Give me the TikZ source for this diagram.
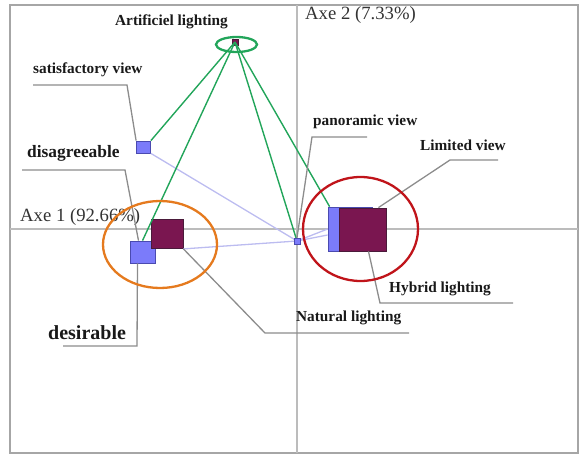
\documentclass[tikz,border=0pt]{standalone}
\usepackage{fontspec}
\setmainfont{Liberation Serif}
\definecolor{ptblue}{HTML}{7B7BFA}
\definecolor{ptblueline}{HTML}{4A4AB0}
\definecolor{ptpurple}{HTML}{7A1650}
\definecolor{ptpurpleline}{HTML}{4A1A3A}
\definecolor{linkgreen}{HTML}{22A55A}
\definecolor{linklav}{HTML}{BCBCF0}
\definecolor{ringorange}{HTML}{E57A1E}
\definecolor{ringred}{HTML}{C0141A}
\definecolor{leadgray}{HTML}{8C8C8C}
\definecolor{axisgray}{HTML}{BCBCBC}
\begin{document}
\begin{tikzpicture}[x=1pt,y=-1pt,
    bluept/.style={draw=ptblueline,fill=ptblue,line width=0.8pt,inner sep=0pt},
    purplept/.style={draw=ptpurpleline,fill=ptpurple,line width=0.8pt,inner sep=0pt},
    lbl/.style={font=\fontsize{15.3}{17}\selectfont\bfseries,text=black!90,anchor=west,inner sep=0pt},
    axlbl/.style={font=\fontsize{18.7}{20}\selectfont,text=black!80,anchor=west,inner sep=0pt},
    lead/.style={draw=leadgray,line width=1.3pt},
    greenlink/.style={draw=linkgreen,line width=1.4pt},
    lavlink/.style={draw=linklav,line width=1.3pt},
    ring/.style={line width=2.3pt}]
    \useasboundingbox (0,0) rectangle (582,455);
    % Frame and axes
    \draw[gray!70, line width=1.6pt] (10,5) rectangle (578,453);
    \draw[axisgray, line width=1.4pt] (10,229) -- (578,229);
    \draw[axisgray, line width=1.4pt] (297,5) -- (297,453);
    \node[axlbl] (ax1) at (20,217) {Axe 1 (92.66\%)};
    \node[axlbl] (ax2) at (305,15) {Axe 2 (7.33\%)};

    % Points
    \node[purplept, minimum width=6pt, minimum height=6pt] (art) at (235,42) {};
    \node[bluept, minimum width=14pt, minimum height=12pt] (sat) at (143.5,147) {};
    \node[bluept, minimum width=6pt, minimum height=6pt] (pan) at (297,241) {};
    \node[bluept, minimum width=44pt, minimum height=44pt] (lim) at (350,229) {};

    % Links
    \draw[lavlink] (sat.south east) -- (pan.center);
    \draw[lavlink] (pan.center) -- (lim.west);
    \draw[lavlink] (pan.center) -- ([yshift=-6pt]lim.west);
    \draw[greenlink] (art.center) -- (sat.north east);
    \draw[greenlink] (art.center) -- (pan.center);
    \draw[greenlink] (art.center) -- ([xshift=2pt]lim.north west);

    \node[bluept, minimum width=25pt, minimum height=22pt] (des) at (142.5,252) {};
    \node[purplept, minimum width=32pt, minimum height=29pt] (nat) at (167,234) {};
    \node[purplept, minimum width=47pt, minimum height=43pt] (hyb) at (362.5,229.5) {};
    \draw[lavlink] (nat.south east) -- (pan.center);
    \draw[greenlink] (art.center) -- (des.north);
    \node[bluept, minimum width=6pt, minimum height=6pt] at (pan) {};

    % Labels
    \node[lbl] (artl) at (115,22) {Artificiel lighting};
    \node[lbl] (satl) at (33,70) {satisfactory view};
    \node[lbl, font=\fontsize{17.4}{19}\selectfont\bfseries] (disl) at (27,153) {disagreeable};
    \node[lbl, font=\fontsize{20}{22}\selectfont\bfseries] (desl) at (48,333) {desirable};
    \node[lbl] (panl) at (313,122) {panoramic view};
    \node[lbl] (liml) at (420,145) {Limited view};
    \node[lbl] (hybl) at (389,289) {Hybrid lighting};
    \node[lbl] (natl) at (296,318) {Natural lighting};

    % Leaders
    \coordinate (satk) at (127,85);   \coordinate (sate) at (33,85);
    \coordinate (disk) at (125,170);  \coordinate (dise) at (22,170);
    \coordinate (desk) at (137,346);  \coordinate (dese) at (63,346);
    \coordinate (natk) at (265,333);  \coordinate (nate) at (409,333);
    \coordinate (pank) at (312,137);  \coordinate (pane) at (367,137);
    \coordinate (limk) at (450,160);  \coordinate (lime) at (498,160);
    \coordinate (hybk) at (380,303);  \coordinate (hybe) at (513,303);
    \draw[lead] (sat.north west) -- (satk) -- (sate);
    \draw[lead] ([xshift=-4pt]des.north) -- (disk) -- (dise);
    \draw[lead] ([xshift=-5pt]des.south) -- (desk) -- (dese);
    \draw[lead] (nat.south east) -- (natk) -- (nate);
    \draw[lead] (pan.north) -- (pank) -- (pane);
    \draw[lead] ([xshift=-8pt]hyb.north east) -- (limk) -- (lime);
    \draw[lead] ([xshift=6pt]hyb.south) -- (hybk) -- (hybe);

    % Rings
    \draw[ring, linkgreen] (236.5,44.5) ellipse (20.5 and 7.5);
    \draw[ring, ringorange] (160,244.5) ellipse (57 and 43.5);
    \draw[ring, ringred] (360.5,229) ellipse (57.5 and 52);
\end{tikzpicture}
\end{document}
